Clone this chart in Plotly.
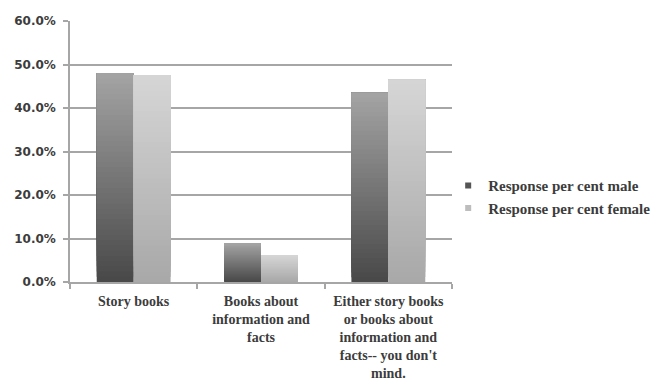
import plotly.graph_objects as go

categories = [
    "Story books",
    "Books about<br>information and<br>facts",
    "Either story books<br>or books about<br>information and<br>facts-- you don't<br>mind.",
]
male = [48.0, 8.9, 43.5]
female = [47.6, 6.2, 46.5]
series_names = ["Response per cent male", "Response per cent female"]
y_ticks = [0, 10, 20, 30, 40, 50, 60]
y_tick_labels = ["0.0%", "10.0%", "20.0%", "30.0%", "40.0%", "50.0%", "60.0%"]

# bottom -> top shades for the vertical gradient of each series
shades = {
    "male": ((0x48, 0x48, 0x48), (0xa4, 0xa4, 0xa4)),
    "female": ((0xa8, 0xa8, 0xa8), (0xd6, 0xd6, 0xd6)),
}
legend_colors = {"male": "#555555", "female": "#bdbdbd"}
N_SLICES = 40


def mix(c0, c1, t):
    return "rgb({},{},{})".format(*[round(a + (b - a) * t) for a, b in zip(c0, c1)])


fig = go.Figure()

# each slice runs from its own start up to the bar's top; later (lighter)
# slices cover the upper part of earlier ones, giving a seamless gradient
for key, values in (("male", male), ("female", female)):
    c0, c1 = shades[key]
    for i in range(N_SLICES):
        fig.add_trace(go.Bar(
            x=categories,
            y=[v * (N_SLICES - i) / N_SLICES for v in values],
            base=[v * i / N_SLICES for v in values],
            offsetgroup=key,
            marker=dict(color=mix(c0, c1, (i + 0.5) / N_SLICES), line=dict(width=0)),
            showlegend=False,
            hoverinfo="skip",
        ))

# legend entries with small square swatches
for key, name in zip(("male", "female"), series_names):
    fig.add_trace(go.Scatter(
        x=[None], y=[None], mode="markers", name=name,
        marker=dict(symbol="square", size=6, color=legend_colors[key]),
    ))

text_color = "#3c3c3c"
grid_color = "#a6a6a6"
serif = "Liberation Serif"

fig.update_layout(
    width=664, height=382,
    margin=dict(l=70, r=212, t=21, b=100, autoexpand=False),
    paper_bgcolor="white", plot_bgcolor="white",
    barmode="group", bargap=0.42, bargroupgap=0,
    legend=dict(
        x=0.99, y=0.432, xanchor="left", yanchor="top",
        font=dict(family=serif, size=15, color=text_color, weight="bold"),
        itemwidth=30, tracegroupgap=0, bgcolor="rgba(0,0,0,0)",
    ),
    xaxis=dict(
        showgrid=False, showline=True, linecolor=grid_color, linewidth=1.5,
        ticks="outside", ticklen=5, tickcolor=grid_color, tickwidth=1.5,
        tickson="boundaries", ticklabelstandoff=5, automargin=False,
        tickfont=dict(family=serif, size=14, color=text_color, weight="bold"),
        fixedrange=True,
    ),
    yaxis=dict(
        range=[0, 60], tickvals=y_ticks, ticktext=y_tick_labels,
        showgrid=True, gridcolor=grid_color, gridwidth=1.5,
        showline=True, linecolor=grid_color, linewidth=1.5,
        ticks="outside", ticklen=5, tickcolor=grid_color, tickwidth=1.5,
        ticklabelstandoff=5, automargin=False,
        tickfont=dict(family="DejaVu Sans", size=12, color=text_color, weight="bold"),
        zeroline=False, fixedrange=True,
    ),
)

fig.write_html("out.html")
